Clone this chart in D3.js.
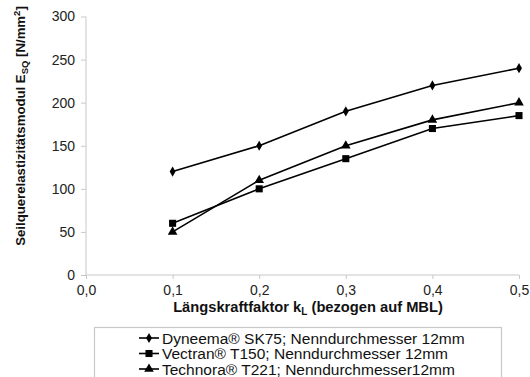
<!DOCTYPE html>
<html><head><meta charset="utf-8">
<script src="https://cdn.jsdelivr.net/npm/d3@7"></script>
<style>body{margin:0;background:#fff}svg{display:block;font-family:Arial,"Liberation Sans",sans-serif}</style>
</head><body><svg id="c" width="530" height="377"></svg>
<script>
const xValues = [0.1, 0.2, 0.3, 0.4, 0.5];
const dyneema = [120, 150, 190, 220, 240];
const vectran = [60, 100, 135, 170, 185];
const technora = [50, 110, 150, 180, 200];
const xTicks = [0, 0.1, 0.2, 0.3, 0.4, 0.5];
const yTicks = [0, 50, 100, 150, 200, 250, 300];
const seriesNames = ["Dyneema® SK75; Nenndurchmesser 12mm", "Vectran® T150; Nenndurchmesser 12mm", "Technora® T221; Nenndurchmesser12mm"];
const symbols = [d3.symbolDiamond, d3.symbolSquare, d3.symbolTriangle];
const symSizes = [30, 50, 40];

const svg = d3.select("#c");
const x = d3.scaleLinear().domain([0, 0.5]).range([86, 519]);
const y = d3.scaleLinear().domain([0, 300]).range([275, 16.5]);
const fmt = d => d3.format(".1f")(d).replace(".", ",");

const gx = svg.append("g").attr("transform", "translate(0,275)")
  .call(d3.axisBottom(x).tickValues(xTicks).tickFormat(fmt).tickSize(4).tickPadding(6));
const gy = svg.append("g").attr("transform", "translate(86,0)")
  .call(d3.axisLeft(y).tickValues(yTicks).tickSize(5).tickPadding(6));
[gx, gy].forEach(g => {
  g.selectAll("path,line").attr("stroke", "#c8c8c8").attr("stroke-width", 1);
  g.selectAll("path").attr("d", g === gx ? "M86,0H519" : "M0,16.5V275");
  g.selectAll("text").attr("font-size", 14).attr("fill", "#222").attr("font-family", "Arial");
});

const all = [dyneema, vectran, technora];
const line = d3.line().x((d, i) => x(xValues[i])).y(d => y(d));
all.forEach((s, k) => {
  svg.append("path").attr("d", line(s)).attr("fill", "none").attr("stroke", "#000").attr("stroke-width", 1.6);
  svg.selectAll(null).data(s).enter().append("path")
    .attr("d", d3.symbol().type(symbols[k]).size(symSizes[k]))
    .attr("transform", (d, i) => `translate(${x(xValues[i])},${y(d)})`)
    .attr("fill", "#000");
});

// axis titles
const xt = svg.append("text").attr("x", 308).attr("y", 312).attr("text-anchor", "middle")
  .attr("font-size", 14.7).attr("font-weight", "bold").attr("fill", "#111");
xt.append("tspan").text("Längskraftfaktor k");
xt.append("tspan").text("L").attr("font-size", 10).attr("dy", 3);
xt.append("tspan").text(" (bezogen auf MBL)").attr("dy", -3);

const yt = svg.append("text").attr("transform", "translate(25,126) rotate(-90)").attr("text-anchor", "middle")
  .attr("font-size", 13.2).attr("font-weight", "bold").attr("fill", "#111");
yt.append("tspan").text("Seilquerelastizitätsmodul E");
yt.append("tspan").text("SQ").attr("font-size", 9.5).attr("dy", 3);
yt.append("tspan").text(" [N/mm").attr("dy", -3);
yt.append("tspan").text("2").attr("font-size", 9.5).attr("dy", -5);
yt.append("tspan").text("]").attr("dy", 5);

// legend
svg.append("rect").attr("x", 94.5).attr("y", 327.5).attr("width", 407).attr("height", 60)
  .attr("fill", "#fff").attr("stroke", "#c8c8c8").attr("stroke-width", 1.2);
seriesNames.forEach((n, k) => {
  const ly = 338 + k * 15.5;
  svg.append("line").attr("x1", 139).attr("x2", 159).attr("y1", ly).attr("y2", ly).attr("stroke", "#000").attr("stroke-width", 1.6);
  svg.append("path").attr("d", d3.symbol().type(symbols[k]).size(symSizes[k])).attr("transform", `translate(149,${ly})`).attr("fill", "#000");
  svg.append("text").attr("x", 162).attr("y", ly + 5.5).attr("font-size", 15.5).attr("fill", "#111").text(n);
});
</script></body></html>
